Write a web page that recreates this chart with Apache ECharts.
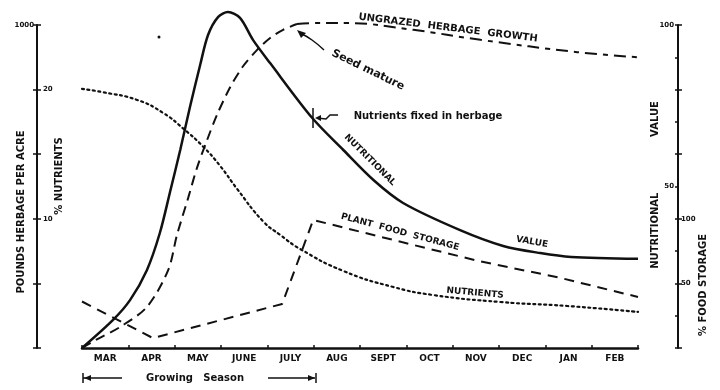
<!DOCTYPE html>
<html>
<head>
<meta charset="utf-8">
<script src="https://cdn.jsdelivr.net/npm/echarts@6/dist/echarts.min.js"></script>
<style>
  html, body { margin: 0; padding: 0; background: #fff; }
  #chart { width: 720px; height: 390px; }
</style>
</head>
<body>
<div id="chart"></div>
<script>
const months = ['MAR', 'APR', 'MAY', 'JUNE', 'JULY', 'AUG', 'SEPT', 'OCT', 'NOV', 'DEC', 'JAN', 'FEB']

// solid curve, nutritional value (right scale 0-100)
const valueMonth = [0, 0.67, 1.04, 1.4, 1.68, 1.9, 2.12, 2.33, 2.55, 2.72, 2.94, 3.15, 3.41, 3.69, 4.06, 4.97, 5.64, 6.29, 6.93, 8.16, 9.09, 9.89, 10.56, 12]
const valueData = [0, 8.7, 14.9, 24.1, 35.6, 48.3, 61.3, 74.6, 87.6, 96.9, 102.5, 104, 102.2, 95.4, 88.2, 71.2, 61.3, 52, 44.9, 36.5, 31.6, 29.4, 28.2, 27.6]

// herbage growth, pounds per acre (left scale 0-1000)
const growthMonth = [0, 0.3, 0.82, 1.4, 1.86, 2.05, 2.29, 2.48, 2.7, 2.92, 3.2, 3.48, 3.78, 4.06, 4.34, 4.64]
const growthData = [0, 25, 65, 127, 241, 350, 464, 557, 644, 724, 808, 873, 923, 960, 985, 1003]
const ungrazedMonth = [4.64, 4.99, 5.72, 7.15, 8.6, 10.69, 12]
const ungrazedData = [1003, 1006, 1006, 985, 954, 916, 900]

// % nutrients (left scale 0-25)
const nutrientMonth = [0, 0.45, 1.19, 1.75, 2.18, 2.61, 2.98, 3.35, 3.91, 4.28, 4.71, 5.64, 6.72, 7.58, 9.03, 10.48, 12]
const nutrientData = [20.05, 19.8, 19.2, 18.2, 17, 15.6, 14.1, 12.3, 9.8, 8.75, 7.66, 5.96, 4.72, 4.1, 3.56, 3.25, 2.79]

// % food storage (right scale 0-250)
const storageMonth = [0, 1.53, 4.32, 4.99, 6.9, 8.6, 10.3, 12]
const storageData = [36, 7.7, 34.1, 99.1, 82, 67, 54.5, 39.5]

const pairs = (xs, ys) => xs.map((x, i) => [x, ys[i]])

const font = 'DejaVu Sans'
const ink = '#111'

const myChart = echarts.init(document.getElementById('chart'))

const txt = (x, y, text, deg, size) => ({
  type: 'text',
  x: x,
  y: y,
  rotation: deg * Math.PI / 180,
  style: {
    text: text,
    fill: ink,
    font: 'bold ' + size + 'px "' + font + '"',
    align: 'center',
    verticalAlign: 'middle'
  }
})

const seg = (x1, y1, x2, y2) => ({
  type: 'line',
  shape: { x1: x1, y1: y1, x2: x2, y2: y2 },
  style: { stroke: ink, lineWidth: 1.5 }
})

const option = {
  backgroundColor: '#fff',
  animation: false,
  grid: {
    left: 82,
    right: 82,
    top: 25,
    bottom: 42
  },
  xAxis: [{
    type: 'value',
    min: 0,
    max: 12,
    interval: 1,
    axisLine: { onZero: false, lineStyle: { color: ink, width: 2.5 } },
    axisTick: { show: false },
    axisLabel: { show: false },
    splitLine: { show: false }
  }, {
    type: 'category',
    position: 'bottom',
    data: months,
    boundaryGap: true,
    axisLine: { show: false },
    axisTick: { show: true, inside: true, length: 3, lineStyle: { color: ink, width: 1.5 } },
    axisLabel: {
      color: ink,
      fontFamily: font,
      fontWeight: 'bold',
      fontSize: 9,
      margin: 6
    },
    splitLine: { show: false }
  }],
  yAxis: [{
    // pounds herbage per acre
    type: 'value',
    position: 'left',
    offset: 45,
    min: 0,
    max: 1000,
    interval: 200,
    axisLine: { show: true, onZero: false, lineStyle: { color: ink, width: 2 } },
    axisTick: { show: true, length: 4, lineStyle: { color: ink, width: 1.5 } },
    axisLabel: {
      color: ink,
      fontFamily: font,
      fontWeight: 'bold',
      fontSize: 7,
      margin: 3,
      formatter: v => (v === 1000 ? '1000' : '')
    },
    splitLine: { show: false }
  }, {
    // % nutrients
    type: 'value',
    position: 'left',
    offset: 45,
    min: 0,
    max: 25,
    interval: 5,
    axisLine: { show: false, onZero: false },
    axisTick: { show: true, inside: true, length: 4, lineStyle: { color: ink, width: 1.5 } },
    axisLabel: {
      inside: true,
      color: ink,
      fontFamily: font,
      fontWeight: 'bold',
      fontSize: 7,
      margin: 6,
      formatter: v => (v === 10 || v === 20 ? String(v) : '')
    },
    splitLine: { show: false }
  }, {
    // nutritional value
    type: 'value',
    position: 'right',
    offset: 40,
    min: 0,
    max: 100,
    interval: 10,
    axisLine: { show: true, onZero: false, lineStyle: { color: ink, width: 2 } },
    axisTick: { show: true, inside: true, length: 3, lineStyle: { color: ink, width: 1.5 } },
    axisLabel: {
      inside: true,
      color: ink,
      fontFamily: font,
      fontWeight: 'bold',
      fontSize: 7,
      margin: 4,
      formatter: v => (v === 100 || v === 50 ? String(v) : '')
    },
    splitLine: { show: false }
  }, {
    // % food storage
    type: 'value',
    position: 'right',
    offset: 40,
    min: 0,
    max: 250,
    interval: 50,
    axisLine: { show: false, onZero: false },
    axisTick: { show: true, length: 4, lineStyle: { color: ink, width: 1.5 } },
    axisLabel: {
      color: ink,
      fontFamily: font,
      fontWeight: 'bold',
      fontSize: 7,
      margin: 3,
      formatter: v => (v === 100 || v === 50 ? String(v) : '')
    },
    splitLine: { show: false }
  }],
  series: [{
    name: 'Nutritional value',
    type: 'line',
    yAxisIndex: 2,
    data: pairs(valueMonth, valueData),
    smooth: 0.3,
    clip: false,
    symbol: 'none',
    lineStyle: { color: ink, width: 2.5 }
  }, {
    name: 'Herbage growth',
    type: 'line',
    yAxisIndex: 0,
    data: pairs(growthMonth, growthData),
    smooth: 0.3,
    clip: false,
    symbol: 'none',
    lineStyle: { color: ink, width: 2, type: [10, 6] }
  }, {
    name: 'Ungrazed herbage growth',
    type: 'line',
    yAxisIndex: 0,
    data: pairs(ungrazedMonth, ungrazedData),
    smooth: 0.4,
    clip: false,
    symbol: 'none',
    lineStyle: { color: ink, width: 2, type: [12, 6, 5, 6] }
  }, {
    name: 'Nutrients',
    type: 'line',
    yAxisIndex: 1,
    data: pairs(nutrientMonth, nutrientData),
    smooth: 0.5,
    symbol: 'none',
    lineStyle: { color: ink, width: 2.2, type: [2, 3.5], cap: 'round' }
  }, {
    name: 'Plant food storage',
    type: 'line',
    yAxisIndex: 3,
    data: pairs(storageMonth, storageData),
    smooth: false,
    symbol: 'none',
    lineStyle: { color: ink, width: 2, type: [10, 7] }
  }],
  graphic: [
    // axis titles
    txt(21, 212, 'POUNDS HERBAGE PER ACRE', 90, 10),
    txt(59, 176, '% NUTRIENTS', 90, 10),
    txt(655, 185, 'NUTRITIONAL                VALUE', 90, 10),
    txt(703, 285, '% FOOD STORAGE', 90, 10),
    // curve labels
    txt(448, 28, 'UNGRAZED  HERBAGE  GROWTH', -7, 10),
    txt(368, 70, 'Seed mature', -26, 11),
    txt(428, 116, 'Nutrients fixed in herbage', 0, 10),
    txt(370, 160, 'NUTRITIONAL', -45, 9),
    txt(532, 242, 'VALUE', -10, 9),
    txt(400, 232, 'PLANT  FOOD  STORAGE', -15, 9),
    txt(475, 293, 'NUTRIENTS', -5, 9),
    // seed mature arrow
    {
      type: 'polyline',
      shape: { points: [[324, 50], [312, 40], [300, 33]], smooth: 0.5 },
      style: { stroke: ink, lineWidth: 1.5, fill: null }
    },
    {
      type: 'polygon',
      shape: { points: [[297, 30], [306, 33], [301, 38]] },
      style: { fill: ink }
    },
    // nutrients fixed marker
    seg(313, 108, 313, 128),
    {
      type: 'polyline',
      shape: { points: [[338, 115], [330, 115], [326, 119], [317, 118]] },
      style: { stroke: ink, lineWidth: 1.5, fill: null }
    },
    {
      type: 'polygon',
      shape: { points: [[315, 118], [321, 115], [321, 121]] },
      style: { fill: ink }
    },
    // stray ink dot
    { type: 'circle', shape: { cx: 159, cy: 37, r: 1.5 }, style: { fill: ink } },
    // growing season bracket
    seg(83, 373, 83, 383),
    seg(83, 378, 122, 378),
    txt(195, 378, 'Growing   Season', 0, 10),
    seg(268, 378, 315, 378),
    seg(316, 373, 316, 383),
    { type: 'polygon', shape: { points: [[315, 378], [308, 375], [308, 381]] }, style: { fill: ink } },
    { type: 'polygon', shape: { points: [[84, 378], [91, 375], [91, 381]] }, style: { fill: ink } }
  ]
}

option && myChart.setOption(option)
</script>
</body>
</html>
